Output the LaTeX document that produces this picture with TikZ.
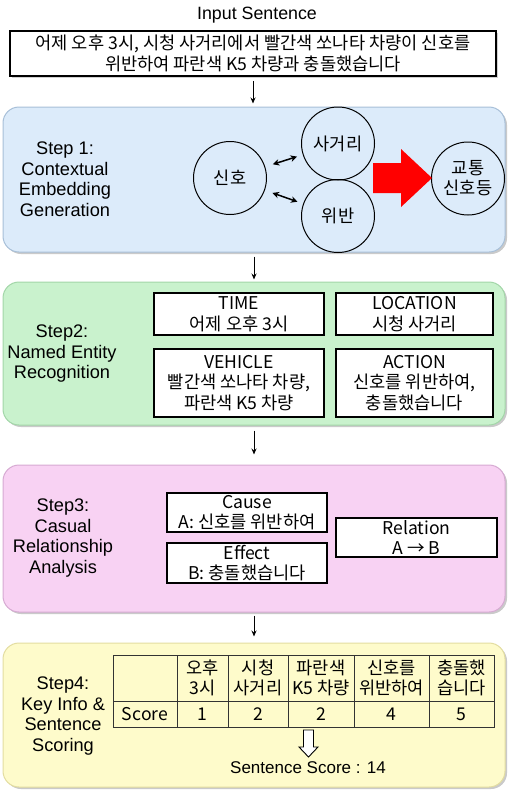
\documentclass[tikz,border=0pt]{standalone}
\usepackage{fontspec}
\setmainfont{Liberation Sans}
\newfontfamily\kr{Noto Sans CJK KR}
\usetikzlibrary{arrows.meta,shadows}
\definecolor{bluef}{HTML}{DCEBFA}
\definecolor{blued}{HTML}{A7BFD8}
\definecolor{greenf}{HTML}{C9F2CD}
\definecolor{greend}{HTML}{A2D6A8}
\definecolor{pinkf}{HTML}{F8D2F3}
\definecolor{pinkd}{HTML}{D6AAD2}
\definecolor{yellf}{HTML}{FEFBCB}
\definecolor{yelld}{HTML}{E3DDA0}
\definecolor{redarr}{HTML}{FF0000}
\begin{document}
\begin{tikzpicture}[x=1pt,y=-1pt,
  stepbg/.style={draw, rounded corners=16pt, line width=1pt, minimum width=502pt, inner sep=0pt,
    drop shadow={shadow xshift=2pt,shadow yshift=-2pt,opacity=0.35,fill=black!60}},
  lbl/.style={align=center, font=\fontsize{18.2}{20.5}\selectfont},
  kbox/.style={draw, fill=white, line width=1.1pt, inner sep=0pt, align=center, font=\kr\fontsize{17.6}{20.5}\selectfont},
  circ/.style={circle, draw, line width=1pt, minimum size=73pt, inner sep=0pt, align=center, font=\kr\fontsize{17.6}{20}\selectfont},
  arr/.style={-{Stealth[length=6pt,width=5pt]}, line width=1pt},
  dbl/.style={{Stealth[length=6.5pt,width=6.5pt]}-{Stealth[length=6.5pt,width=6.5pt]}, line width=1.5pt},
  cell/.style={draw=black!80, line width=0.9pt, inner sep=0pt, align=center, font=\kr\fontsize{17.6}{20.5}\selectfont}
]
\useasboundingbox (0,0) rectangle (511,793);

% title and input
\node[font=\fontsize{17.8}{20}\selectfont] (title) at (257,15) {Input Sentence};
\node[kbox, line width=1.6pt, minimum width=486pt, minimum height=45pt,
  drop shadow={shadow xshift=2pt,shadow yshift=-2pt,opacity=0.3,fill=black!60}] (input) at (253,53.5)
  {어제 오후 3시, 시청 사거리에서 빨간색 쏘나타 차량이 신호를\\위반하여 파란색 K5 차량과 충돌했습니다};

% step backgrounds
\node[stepbg, draw=blued, fill=bluef, minimum height=145pt] (s1) at (254,179.5) {};
\node[stepbg, draw=greend, fill=greenf, minimum height=143pt] (s2) at (254,353.5) {};
\node[stepbg, draw=pinkd, fill=pinkf, minimum height=147pt] (s3) at (254,538.5) {};
\node[stepbg, draw=yelld, fill=yellf, minimum height=144pt] (s4) at (254,715) {};

% connectors between steps
\draw[arr, shorten <=4pt, shorten >=3pt] (input.south) -- (input.south |- s1.north);
\draw[arr, shorten <=4pt, shorten >=2pt] (s1.south) -- (s2.north);
\draw[arr, shorten <=5pt, shorten >=10pt] (s2.south) -- (s3.north);
\draw[arr, shorten <=3pt, shorten >=6pt] (s3.south) -- (s4.north);

% Step 1
\node[lbl] (l1) at (65,179) {Step 1:\\Contextual\\Embedding\\Generation};
\node[circ] (sinho) at (230,178) {신호};
\node[circ] (sageori) at (338,143.5) {사거리};
\node[circ] (wiban) at (338,216) {위반};
\node[circ] (gyotong) at (468,178.5) {교통\\신호등};
\draw[dbl, shorten <=8pt, shorten >=6pt] (sinho) -- (sageori);
\draw[dbl, shorten <=8pt, shorten >=6pt] (sinho) -- (wiban);
\fill[redarr] (373,163) -- (401,163) -- (401,149) -- (432,178) -- (401,207) -- (401,193) -- (373,193) -- cycle;

% Step 2
\node[lbl] (l2) at (62,354) {Step2:\\Named Entity\\Recognition};
\node[kbox, minimum width=170pt, minimum height=42pt] (time) at (239,314) {TIME\\어제 오후 3시};
\node[kbox, minimum width=157pt, minimum height=42pt] (loc) at (414.5,314) {LOCATION\\시청 사거리};
\node[kbox, minimum width=170pt, minimum height=68pt] (veh) at (239,383) {VEHICLE\\빨간색 쏘나타 차량,\\파란색 K5 차량};
\node[kbox, minimum width=157pt, minimum height=68pt] (act) at (414.5,383) {ACTION\\신호를 위반하여,\\충돌했습니다};

% Step 3
\node[lbl] (l3) at (63,538) {Step3:\\Casual\\Relationship\\Analysis};
\node[kbox, minimum width=160pt, minimum height=39pt] (cause) at (247,512.5) {Cause\\A: 신호를 위반하여};
\node[kbox, minimum width=160pt, minimum height=40pt] (effect) at (247,563) {Effect\\B: 충돌했습니다};
\node[kbox, minimum width=161pt, minimum height=39pt] (rel) at (416.5,537.5) {Relation\\A → B};

% Step 4
\node[lbl] (l4) at (63,716) {Step4:\\Key Info \&\\Sentence\\Scoring};
% header row
\node[cell, minimum width=64pt, minimum height=46pt] (h0) at (145,678) {};
\node[cell, minimum width=51pt, minimum height=46pt] (h1) at (202.5,678) {오후\\3시};
\node[cell, minimum width=60pt, minimum height=46pt] (h2) at (258,678) {시청\\사거리};
\node[cell, minimum width=66pt, minimum height=46pt] (h3) at (321,678) {파란색\\K5 차량};
\node[cell, minimum width=75pt, minimum height=46pt] (h4) at (391.5,678) {신호를\\위반하여};
\node[cell, minimum width=65pt, minimum height=46pt] (h5) at (461.5,678) {충돌했\\습니다};
% score row
\node[cell, minimum width=64pt, minimum height=26pt] (r0) at (145,714) {Score};
\node[cell, minimum width=51pt, minimum height=26pt] (r1) at (202.5,714) {1};
\node[cell, minimum width=60pt, minimum height=26pt] (r2) at (258,714) {2};
\node[cell, minimum width=66pt, minimum height=26pt] (r3) at (321,714) {2};
\node[cell, minimum width=75pt, minimum height=26pt] (r4) at (391.5,714) {4};
\node[cell, minimum width=65pt, minimum height=26pt] (r5) at (461.5,714) {5};
% hollow arrow
\draw[fill=white, line width=0.9pt] (303.5,730) -- (313.5,730) -- (313.5,747) -- (318,747) -- (308.5,757) -- (299,747) -- (303.5,747) -- cycle;
\node[font=\fontsize{17}{20}\selectfont] (total) at (308,768) {Sentence Score : 14};
\end{tikzpicture}
\end{document}
